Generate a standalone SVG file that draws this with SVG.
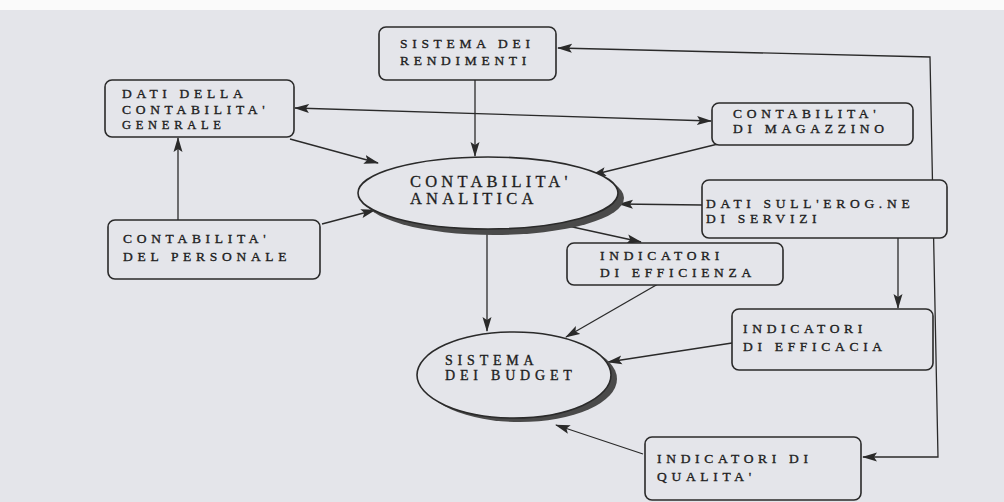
<svg xmlns="http://www.w3.org/2000/svg" width="1004" height="502" viewBox="0 0 1004 502">
<style>
.page{fill:#e4e5ea}
.box{fill:#e4e5ea;stroke:#2a2a2a;stroke-width:1.6}
.ell{fill:#e4e5ea;stroke:#2a2a2a;stroke-width:1.6}
.sh{fill:#4a4a4a}
.t{font-family:"Liberation Serif","Times New Roman",serif;font-size:13.5px;letter-spacing:4.7px;fill:#1e1e1e;stroke:#1e1e1e;stroke-width:0.35}
.te{font-family:"Liberation Serif","Times New Roman",serif;font-size:16.5px;letter-spacing:4.2px;fill:#1e1e1e;stroke:#1e1e1e;stroke-width:0.3}
.tb{font-family:"Liberation Serif","Times New Roman",serif;font-size:14px;letter-spacing:4.8px;fill:#1e1e1e;stroke:#1e1e1e;stroke-width:0.35}
.c{fill:none;stroke:#2a2a2a;stroke-width:1.3}
</style>
<defs>
<marker id="ah" viewBox="0 0 15 10" refX="14" refY="5" markerWidth="15" markerHeight="10" markerUnits="userSpaceOnUse" orient="auto-start-reverse">
<path d="M0,0.5 L15,5 L0,9.5 L3,5 Z" fill="#2a2a2a"/>
</marker>
</defs>
<rect x="0" y="0" width="1004" height="502" fill="#fafafa"/>
<rect class="page" x="0" y="10" width="1004" height="492"/>

<g id="connectors">
<path class="c" d="M475,80 L475,156" marker-end="url(#ah)"/>
<path class="c" d="M295,108 L711,121" marker-start="url(#ah)" marker-end="url(#ah)"/>
<path class="c" d="M290,139 L378,163" marker-end="url(#ah)"/>
<path class="c" d="M178,220 L178,138" marker-end="url(#ah)"/>
<path class="c" d="M322,224 L375,210" marker-end="url(#ah)"/>
<path class="c" d="M722,143 L592,175" marker-end="url(#ah)"/>
<path class="c" d="M702,205 L619,204" marker-end="url(#ah)"/>
<path class="c" d="M568,226 L641,242" marker-end="url(#ah)"/>
<path class="c" d="M487,230 L487,331" marker-end="url(#ah)"/>
<path class="c" d="M658,284 L566,337" marker-end="url(#ah)"/>
<path class="c" d="M732,343 L608,362" marker-end="url(#ah)"/>
<path class="c" d="M643,454 L556,425" marker-end="url(#ah)"/>
<path class="c" d="M898,238 L898,308" marker-end="url(#ah)"/>
<path class="c" d="M863,457 L938,457 L930,57 L558,48" marker-start="url(#ah)" marker-end="url(#ah)"/>
</g>

<g id="sistema-rendimenti">
<rect class="box" x="379" y="27" width="177" height="53" rx="7"/>
<text class="t" x="400" y="48">SISTEMA DEI</text>
<text class="t" x="400" y="65">RENDIMENTI</text>
</g>

<g id="dati-contabilita-generale">
<rect class="box" x="105" y="80" width="189" height="57" rx="7"/>
<text class="t" x="122" y="98">DATI DELLA</text>
<text class="t" x="122" y="114">CONTABILITA'</text>
<text class="t" x="122" y="129" style="font-size:12.5px">GENERALE</text>
</g>

<g id="contabilita-magazzino">
<rect class="box" x="712" y="103" width="201" height="42" rx="7"/>
<text class="t" x="733" y="118">CONTABILITA'</text>
<text class="t" x="733" y="133">DI MAGAZZINO</text>
</g>

<g id="dati-erogazione-servizi">
<rect class="box" x="702" y="180" width="245" height="58" rx="7"/>
<text class="t" x="706" y="208">DATI SULL'EROG.NE</text>
<text class="t" x="706" y="223">DI SERVIZI</text>
</g>

<g id="contabilita-personale">
<rect class="box" x="108" y="220" width="212" height="59" rx="7"/>
<text class="t" x="123" y="243">CONTABILITA'</text>
<text class="t" x="123" y="261">DEL PERSONALE</text>
</g>

<g id="contabilita-analitica">
<ellipse class="sh" cx="494" cy="198" rx="130" ry="37"/>
<ellipse class="ell" cx="488" cy="193" rx="130" ry="36"/>
<text class="te" x="410" y="187">CONTABILITA'</text>
<text class="te" x="410" y="204">ANALITICA</text>
</g>

<g id="indicatori-efficienza">
<rect class="box" x="567" y="243" width="216" height="42" rx="7"/>
<text class="t" x="600" y="260">INDICATORI</text>
<text class="t" x="600" y="277">DI EFFICIENZA</text>
</g>

<g id="indicatori-efficacia">
<rect class="box" x="732" y="309" width="201" height="61" rx="7"/>
<text class="t" x="743" y="333">INDICATORI</text>
<text class="t" x="743" y="351">DI EFFICACIA</text>
</g>

<g id="sistema-budget">
<ellipse class="sh" cx="520" cy="379" rx="97" ry="43"/>
<ellipse class="ell" cx="514" cy="375" rx="97" ry="43"/>
<text class="tb" x="445" y="365">SISTEMA</text>
<text class="tb" x="445" y="380">DEI BUDGET</text>
</g>

<g id="indicatori-qualita">
<rect class="box" x="645" y="437" width="216" height="63" rx="7"/>
<text class="t" x="657" y="463">INDICATORI DI</text>
<text class="t" x="657" y="481">QUALITA'</text>
</g>
</svg>
